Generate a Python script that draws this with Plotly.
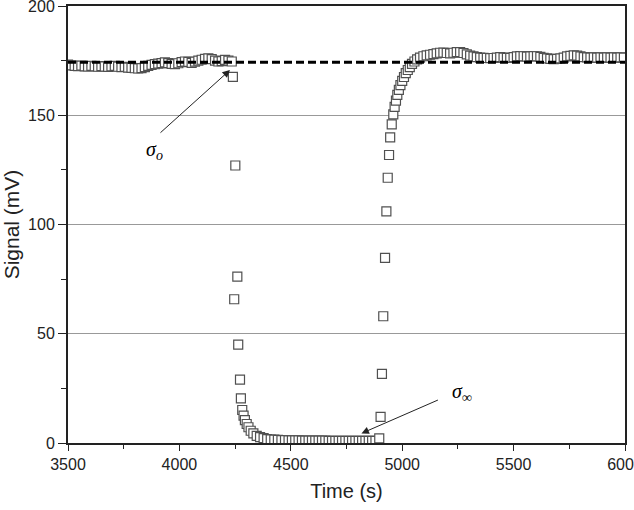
import plotly.graph_objects as go

# ---- data ----
base_time = [3500, 3515, 3530, 3545, 3560, 3575, 3590, 3605, 3620, 3635,
             3650, 3665, 3680, 3695, 3710, 3725, 3740, 3755, 3770, 3785,
             3800, 3815, 3830, 3845, 3860, 3875, 3890, 3905, 3920, 3935,
             3950, 3965, 3980, 3995, 4010, 4025, 4040, 4055, 4070, 4085,
             4100, 4115, 4130, 4145, 4160, 4175, 4190, 4205, 4220, 4235]
base_signal = [173.2, 172.8, 172.6, 172.5, 172.7, 172.4, 172.3, 172.6, 172.4, 172.2,
               172.5, 172.3, 172.1, 172.4, 172.6, 172.2, 172.0, 172.1, 171.8, 171.7,
               171.5, 171.4, 171.6, 172.0, 172.6, 173.1, 173.4, 173.6, 173.9, 174.2,
               173.9, 173.5, 173.4, 173.8, 174.3, 174.6, 174.4, 174.0, 174.5, 175.0,
               175.4, 175.8, 176.0, 175.7, 175.0, 174.6, 174.8, 175.3, 175.0, 174.6]

drop_time = [4240, 4251, 4246, 4260, 4264, 4272, 4276, 4282, 4288, 4294, 4302, 4310,
             4320, 4332, 4347, 4362, 4378, 4394, 4410, 4426, 4442, 4458, 4474, 4490]
drop_signal = [167.6, 127.0, 65.8, 76.1, 45.0, 29.0, 20.4, 15.1, 12.5, 10.5, 8.7, 7.2,
               5.6, 4.4, 3.3, 2.7, 2.2, 1.8, 1.6, 1.5, 1.4, 1.3, 1.3, 1.2]

low_time = [4505, 4520, 4535, 4550, 4565, 4580, 4595, 4610, 4625, 4640, 4655, 4670, 4685,
            4700, 4715, 4730, 4745, 4760, 4775, 4790, 4805, 4820, 4835, 4850, 4865, 4880]
low_signal = [1.2, 1.2, 1.2, 1.1, 1.1, 1.1, 1.1, 1.1, 1.1, 1.1, 1.1, 1.0, 1.0,
              1.0, 1.0, 1.0, 1.0, 1.0, 1.0, 1.0, 1.0, 1.0, 1.0, 1.0, 1.0, 1.0]

rise_time = [4897, 4903, 4909, 4915, 4923, 4929, 4935, 4941, 4946, 4953, 4960, 4966, 4972,
             4978, 4985, 4992, 5000, 5008, 5016, 5025, 5034, 5044, 5055, 5067, 5080, 5095]
rise_signal = [2.1, 12.0, 31.6, 58.0, 84.7, 106.0, 121.4, 131.8, 139.9, 145.8, 150.4, 153.8, 156.7,
               159.3, 161.6, 163.8, 165.7, 167.5, 169.3, 170.7, 172.0, 173.5, 174.6, 175.6, 176.4, 177.0]

high_time = [5110, 5125, 5140, 5155, 5170, 5185, 5200, 5215, 5230, 5245,
             5260, 5275, 5290, 5305, 5320, 5335, 5350, 5365, 5380, 5395,
             5410, 5425, 5440, 5455, 5470, 5485, 5500, 5515, 5530, 5545,
             5560, 5575, 5590, 5605, 5620, 5635, 5650, 5665, 5680, 5695,
             5710, 5725, 5740, 5755, 5770, 5785, 5800, 5815, 5830, 5845,
             5860, 5875, 5890, 5905, 5920, 5935, 5950, 5965, 5980, 5995]
high_signal = [177.4, 177.7, 178.0, 178.3, 178.6, 178.7, 178.5, 178.3, 178.6, 178.9,
               178.9, 178.5, 177.9, 177.3, 176.9, 176.6, 176.4, 176.3, 176.2, 176.1,
               176.2, 176.4, 176.6, 176.4, 176.2, 176.3, 176.6, 176.9, 177.1, 177.0,
               176.8, 176.9, 177.1, 177.0, 176.7, 176.3, 176.0, 175.8, 175.7, 175.8,
               176.0, 176.4, 176.9, 177.2, 177.4, 177.3, 176.9, 176.6, 176.5, 176.4,
               176.5, 176.4, 176.5, 176.4, 176.5, 176.4, 176.5, 176.4, 176.5, 176.4]

sigma0_level = 174.3
x_ticks = [3500, 4000, 4500, 5000, 5500, 6000]
y_ticks = [0, 50, 100, 150, 200]

time = base_time + drop_time + low_time + rise_time + high_time
signal = base_signal + drop_signal + low_signal + rise_signal + high_signal

FONT = "Arial, 'Liberation Sans', sans-serif"
SERIF = "'Times New Roman', 'Liberation Serif', serif"

fig = go.Figure()
fig.add_trace(go.Scatter(
    x=time, y=signal, mode="markers",
    marker=dict(symbol="square", size=9, color="white",
                line=dict(color="#505050", width=1.2)),
    showlegend=False,
))
fig.add_trace(go.Scatter(
    x=[x_ticks[0], x_ticks[-1]], y=[sigma0_level, sigma0_level], mode="lines",
    line=dict(color="black", width=3, dash="8px,4px"),
    showlegend=False,
))

# sigma_o annotation
fig.add_annotation(x=4227, y=170.7, ax=-71, ay=64, xref="x", yref="y",
                   showarrow=True, arrowhead=2, arrowsize=1.5, arrowwidth=1,
                   arrowcolor="#222222", text="")
fig.add_annotation(x=3890, y=134, xref="x", yref="y", showarrow=False,
                   text="<i>σ<sub>o</sub></i>", font=dict(family=SERIF, size=20, color="black"))
# sigma_inf annotation
fig.add_annotation(x=4817, y=4.4, ax=78, ay=-34, xref="x", yref="y",
                   showarrow=True, arrowhead=2, arrowsize=1.5, arrowwidth=1,
                   arrowcolor="#222222", text="")
fig.add_annotation(x=5267, y=23, xref="x", yref="y", showarrow=False,
                   text="<i>σ<sub>∞</sub></i>", font=dict(family=SERIF, size=20, color="black"))

fig.update_layout(
    width=634, height=510,
    margin=dict(l=68, r=9, t=6, b=67),
    paper_bgcolor="white", plot_bgcolor="white",
    font=dict(family=FONT, size=16, color="#222222"),
)
fig.update_xaxes(
    range=[x_ticks[0], x_ticks[-1]], tickmode="array", tickvals=x_ticks,
    ticklabeloverflow="allow", automargin=False,
    showline=True, mirror=True, linecolor="#222222", linewidth=2,
    ticks="outside", ticklen=6, tickwidth=1.3, tickcolor="#222222",
    minor=dict(dtick=250, tick0=3500, ticks="outside", ticklen=4, tickcolor="#222222", showgrid=False),
    showgrid=False, zeroline=False,
    title=dict(text="Time (s)", font=dict(size=20), standoff=12),
    tickfont=dict(size=16),
)
fig.update_yaxes(
    range=[y_ticks[0], y_ticks[-1]], tickmode="array", tickvals=y_ticks,
    ticklabeloverflow="allow", automargin=False,
    showline=True, mirror=True, linecolor="#222222", linewidth=2,
    ticks="outside", ticklen=8, tickwidth=1.3, tickcolor="#222222",
    minor=dict(dtick=25, tick0=0, ticks="outside", ticklen=5, tickcolor="#222222", showgrid=False),
    showgrid=True, gridcolor="#999999", gridwidth=1, zeroline=False,
    title=dict(text="Signal (mV)", font=dict(size=21), standoff=8),
    tickfont=dict(size=16),
)

fig.write_html("out.html")
